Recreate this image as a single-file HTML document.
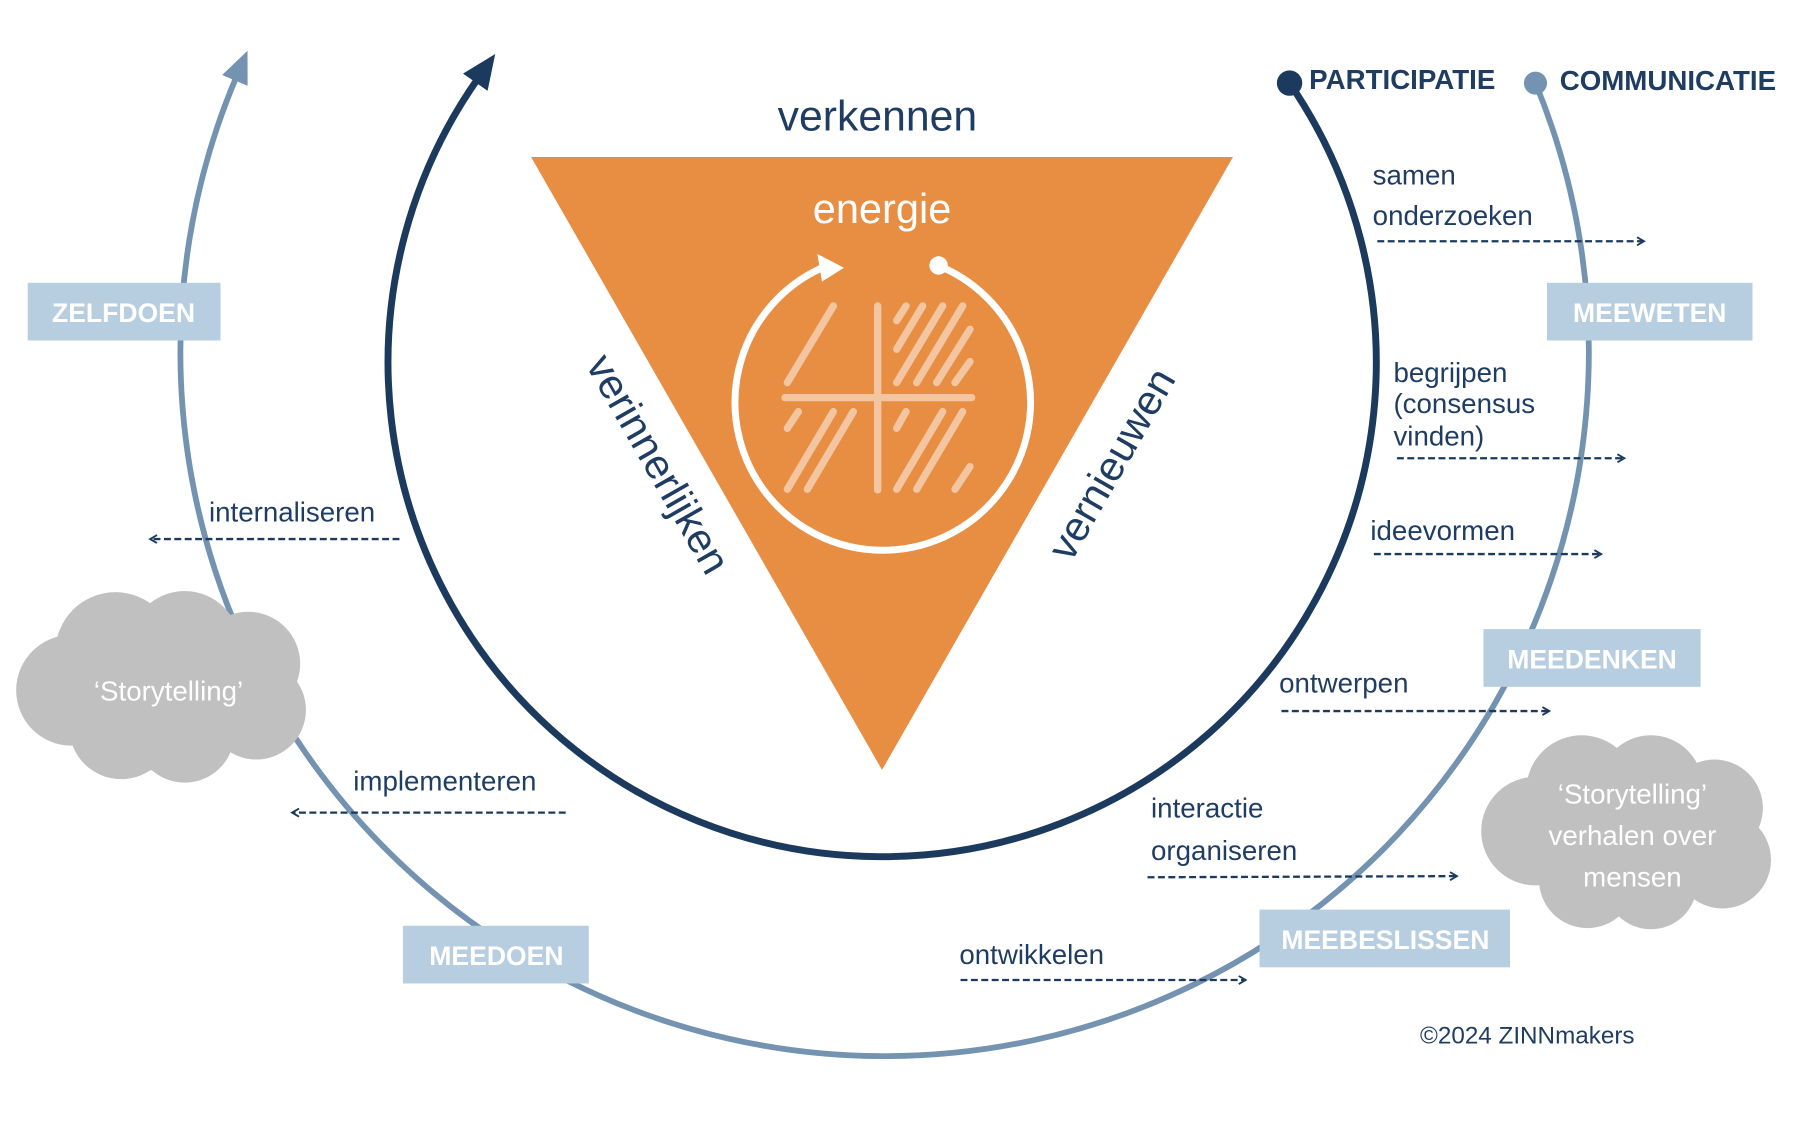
<!DOCTYPE html>
<html><head><meta charset="utf-8"><style>
html,body{margin:0;padding:0;background:#fff}
svg{display:block}
text{font-family:"Liberation Sans",sans-serif}
</style></head><body>
<svg width="1801" height="1137" viewBox="0 0 1560 985" preserveAspectRatio="none" xmlns="http://www.w3.org/2000/svg">
<defs>
<marker id="ao" markerUnits="userSpaceOnUse" markerWidth="30" markerHeight="30" refX="4" refY="12" orient="auto"><path d="M0,0 L28,12 L0,24 Z" fill="#7393b0"/></marker>
<marker id="ai" markerUnits="userSpaceOnUse" markerWidth="32" markerHeight="32" refX="4" refY="13" orient="auto"><path d="M0,0 L30,13 L0,26 Z" fill="#1b3a5d"/></marker>
<marker id="ad" markerUnits="userSpaceOnUse" markerWidth="10" markerHeight="10" refX="7" refY="4" orient="auto"><path d="M1,0.5 L7,4 L1,7.5" fill="none" stroke="#1b3a5d" stroke-width="1.6"/></marker>
</defs>
<g>
<path d="M1330,72 A610,610 0 1 1 205,66" fill="none" stroke="#7393b0" stroke-width="5" marker-end="url(#ao)"/>
<circle cx="1330" cy="72" r="10" fill="#7393b0"/>
<path d="M1117,72 A428,428 0 1 1 414,68" fill="none" stroke="#1b3a5d" stroke-width="6" marker-end="url(#ai)"/>
<circle cx="1117" cy="72" r="11" fill="#1b3a5d"/>

<polygon points="460,136 1068,136 764,667" fill="#e88e43"/>
<text x="760" y="113" font-size="37" fill="#1f3d63" text-anchor="middle">verkennen</text>
<text x="764" y="193" font-size="36" fill="#fff" text-anchor="middle">energie</text>
<text transform="translate(570,402) rotate(60.2)" font-size="36" fill="#1f3d63" text-anchor="middle" dy="12">verinnerlijken</text>
<text transform="translate(963,402) rotate(-60.2)" font-size="36" fill="#1f3d63" text-anchor="middle" dy="12">vernieuwen</text>

<path d="M712,232 A128,128 0 1 0 815,231" fill="none" stroke="#fff" stroke-width="6"/>
<polygon points="731,232 708,220 712,244" fill="#fff"/>
<circle cx="813" cy="230" r="8" fill="#fff"/>
<g transform="scale(0.86619) translate(700,200) scale(0.33333)" stroke="#f3c6a1" stroke-width="22" stroke-linecap="round" fill="none">
<line x1="255" y1="593" x2="815" y2="593"/>
<line x1="533" y1="318" x2="533" y2="870"/>
<line x1="400" y1="318" x2="262" y2="548"/>
<line x1="618" y1="318" x2="590" y2="362"/>
<line x1="668" y1="318" x2="590" y2="448"/>
<line x1="728" y1="318" x2="590" y2="548"/>
<line x1="788" y1="318" x2="650" y2="548"/>
<line x1="810" y1="388" x2="710" y2="548"/>
<line x1="810" y1="485" x2="765" y2="548"/>
<line x1="295" y1="635" x2="262" y2="685"/>
<line x1="400" y1="635" x2="262" y2="868"/>
<line x1="460" y1="635" x2="322" y2="868"/>
<line x1="618" y1="635" x2="590" y2="685"/>
<line x1="728" y1="635" x2="590" y2="868"/>
<line x1="788" y1="635" x2="650" y2="868"/>
<line x1="810" y1="800" x2="765" y2="868"/>
</g>

<g fill="#b7cde0">
<rect x="24" y="245" width="167" height="50"/>
<rect x="1340" y="245" width="178" height="50"/>
<rect x="1285" y="545" width="188" height="50"/>
<rect x="1091" y="788" width="217" height="50"/>
<rect x="349" y="802" width="161" height="50"/>
</g>
<g fill="#fff" font-size="23" font-weight="bold" text-anchor="middle">
<text x="107" y="279">ZELFDOEN</text>
<text x="1429" y="279">MEEWETEN</text>
<text x="1379" y="579">MEEDENKEN</text>
<text x="1200" y="822">MEEBESLISSEN</text>
<text x="430" y="836">MEEDOEN</text>
</g>
<g fill="#1f3d63" font-size="24" font-weight="bold">
<text x="1134" y="77">PARTICIPATIE</text>
<text x="1351" y="78">COMMUNICATIE</text>
</g>

<g fill="#c0c0c0">
<circle cx="100" cy="565" r="52"/><circle cx="160" cy="560" r="48"/><circle cx="215" cy="575" r="45"/>
<circle cx="62" cy="598" r="48"/><circle cx="105" cy="630" r="45"/><circle cx="160" cy="635" r="43"/><circle cx="222" cy="615" r="43"/>
<circle cx="140" cy="598" r="70"/>
<circle cx="1370" cy="685" r="48"/><circle cx="1430" cy="682" r="45"/><circle cx="1485" cy="700" r="42"/>
<circle cx="1330" cy="720" r="47"/><circle cx="1375" cy="762" r="42"/><circle cx="1430" cy="765" r="40"/><circle cx="1492" cy="745" r="42"/>
<circle cx="1410" cy="722" r="70"/>
</g>
<g fill="#fff" font-size="24" text-anchor="middle">
<text x="146" y="607">‘Storytelling’</text>
<text x="1414" y="696">‘Storytelling’</text>
<text x="1414" y="732">verhalen over</text>
<text x="1414" y="768">mensen</text>
</g>

<g fill="#1f3d63" font-size="24">
<text x="1189" y="160">samen</text>
<text x="1189" y="195">onderzoeken</text>
<text x="1207" y="331">begrijpen</text>
<text x="1207" y="358">(consensus</text>
<text x="1207" y="386">vinden)</text>
<text x="1187" y="468">ideevormen</text>
<text x="1108" y="600">ontwerpen</text>
<text x="997" y="708">interactie</text>
<text x="997" y="745">organiseren</text>
<text x="831" y="835">ontwikkelen</text>
<text x="181" y="452">internaliseren</text>
<text x="306" y="685">implementeren</text>
<text x="1230" y="904" font-size="21">©2024 ZINNmakers</text>
</g>
<g stroke="#1b3a5d" stroke-width="2" stroke-dasharray="6 3" fill="none" marker-end="url(#ad)">
<line x1="1193" y1="209" x2="1424" y2="209"/>
<line x1="1210" y1="397" x2="1407" y2="397"/>
<line x1="1190" y1="480" x2="1387" y2="480"/>
<line x1="1110" y1="616" x2="1342" y2="616"/>
<line x1="994" y1="760" x2="1262" y2="759"/>
<line x1="832" y1="849" x2="1079" y2="849"/>
<line x1="346" y1="467" x2="130" y2="467"/>
<line x1="490" y1="704" x2="253" y2="704"/>
</g>
</g>
</svg>
</body></html>
